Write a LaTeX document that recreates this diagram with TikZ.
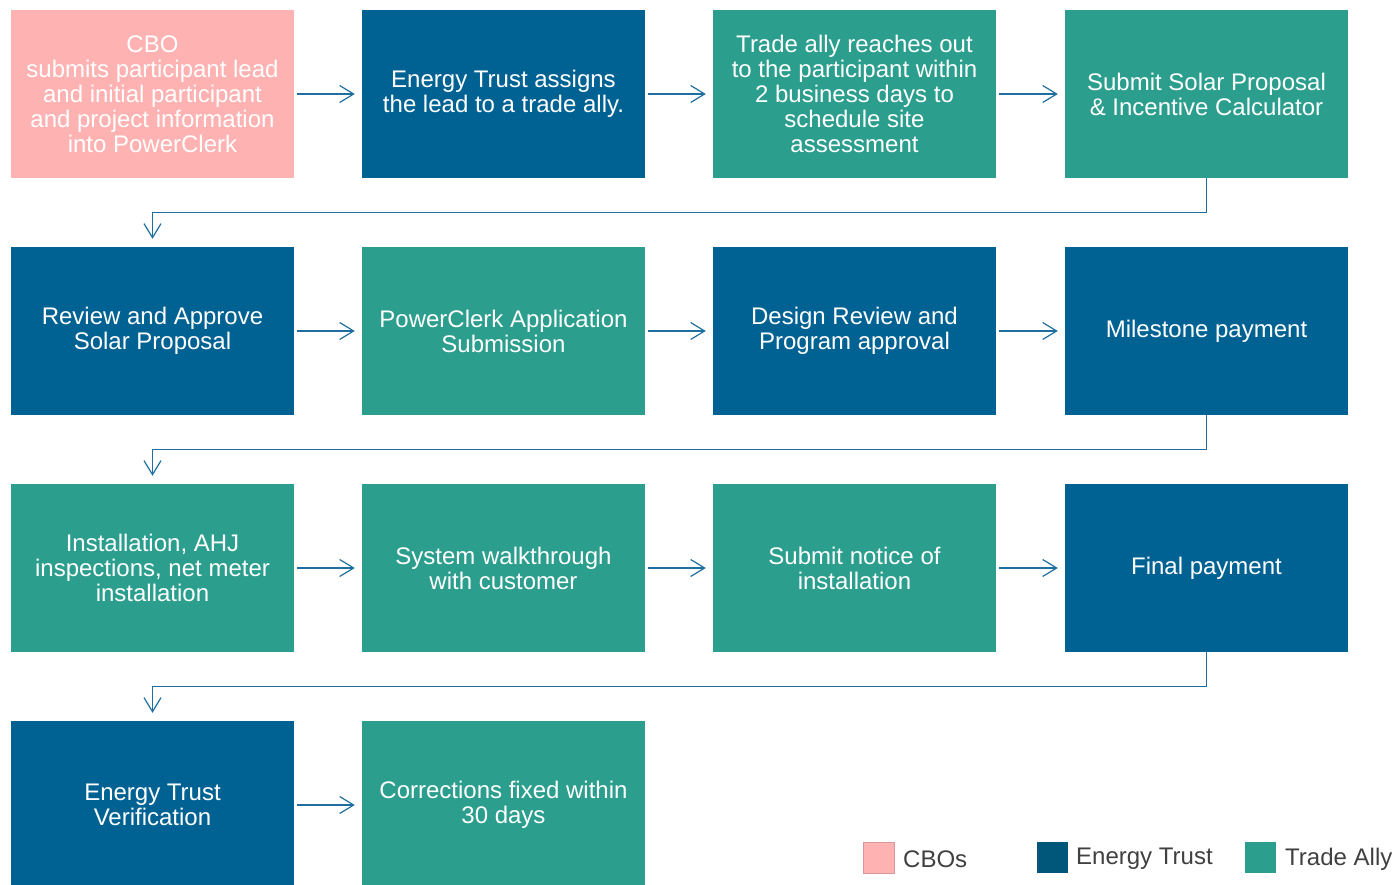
\documentclass[tikz,border=0pt]{standalone}
\usepackage{fontspec}
\setmainfont{Liberation Sans}
\usetikzlibrary{arrows.meta}
\definecolor{cbopink}{HTML}{FFB2B2}
\definecolor{etblue}{HTML}{006293}
\definecolor{tateal}{HTML}{2C9E8D}
\definecolor{legblue}{HTML}{00577A}
\definecolor{linkblue}{HTML}{1E6E9F}
\definecolor{legtext}{HTML}{404040}
\tikzset{
  stepbox/.style={rectangle, minimum width=283pt, minimum height=168pt, inner sep=0pt,
    text=white, align=center, font=\fontsize{24}{25}\selectfont},
  cbo/.style={stepbox, fill=cbopink},
  et/.style={stepbox, fill=etblue},
  ta/.style={stepbox, fill=tateal},
  link/.style={draw=linkblue, line width=1.2pt,
    -{Straight Barb[length=14pt,width=17pt,line width=1.2pt]}},
  flow/.style={link, shorten <=3pt, shorten >=7pt},
  wrap/.style={link, shorten >=8pt},
  legsq/.style={rectangle, minimum size=31pt, inner sep=0pt},
  legtxt/.style={anchor=west, text=legtext, inner sep=0pt, font=\fontsize{24}{25}\selectfont}
}
\begin{document}
\begin{tikzpicture}[x=1pt, y=-1pt]
\useasboundingbox (0,0) rectangle (1397,885);
\clip (0,0) rectangle (1397,885);
% row 1
\node[cbo] (b1) at (152.5,94) {CBO\\submits participant lead\\and initial participant\\and project information\\into PowerClerk};
\node[et] (b2) at (503.5,94) {Energy Trust assigns\\the lead to a trade ally.};
\node[ta] (b3) at (854.5,94) {Trade ally reaches out\\to the participant within\\2 business days to\\schedule site\\assessment};
\node[ta] (b4) at (1206.5,94) {Submit Solar Proposal\\\& Incentive Calculator};
% row 2
\node[et] (b5) at (152.5,331) {Review and Approve\\Solar Proposal};
\node[ta] (b6) at (503.5,331) {PowerClerk Application\\Submission};
\node[et] (b7) at (854.5,331) {Design Review and\\Program approval};
\node[et] (b8) at (1206.5,331) {Milestone payment};
% row 3
\node[ta] (b9) at (152.5,568) {Installation, AHJ\\inspections, net meter\\installation};
\node[ta] (b10) at (503.5,568) {System walkthrough\\with customer};
\node[ta] (b11) at (854.5,568) {Submit notice of\\installation};
\node[et] (b12) at (1206.5,568) {Final payment};
% row 4
\node[et] (b13) at (152.5,805) {Energy Trust\\Verification};
\node[ta] (b14) at (503.5,805) {Corrections fixed within\\30 days};
% connectors within rows
\foreach \a/\b in {b1/b2,b2/b3,b3/b4,b5/b6,b6/b7,b7/b8,b9/b10,b10/b11,b11/b12,b13/b14}
  \draw[flow] (\a.east) -- (\b.west);
% connectors between rows
\draw[wrap] (b4.south) -- ++(0,34) -| (b5.north);
\draw[wrap] (b8.south) -- ++(0,34) -| (b9.north);
\draw[wrap] (b12.south) -- ++(0,34) -| (b13.north);
% legend
\node[legsq, fill=cbopink, draw=cbopink!85!black, line width=0.6pt] (l1) at (878.5,857.5) {};
\node[legtxt] (t1) at (903,859) {CBOs};
\node[legsq, fill=legblue] (l2) at (1052.5,857.5) {};
\node[legtxt] (t2) at (1076,859) {Energy Trust};
\node[legsq, fill=tateal] (l3) at (1260.5,857.5) {};
\node[legtxt] (t3) at (1285,859) {Trade Ally};
\end{tikzpicture}
\end{document}
